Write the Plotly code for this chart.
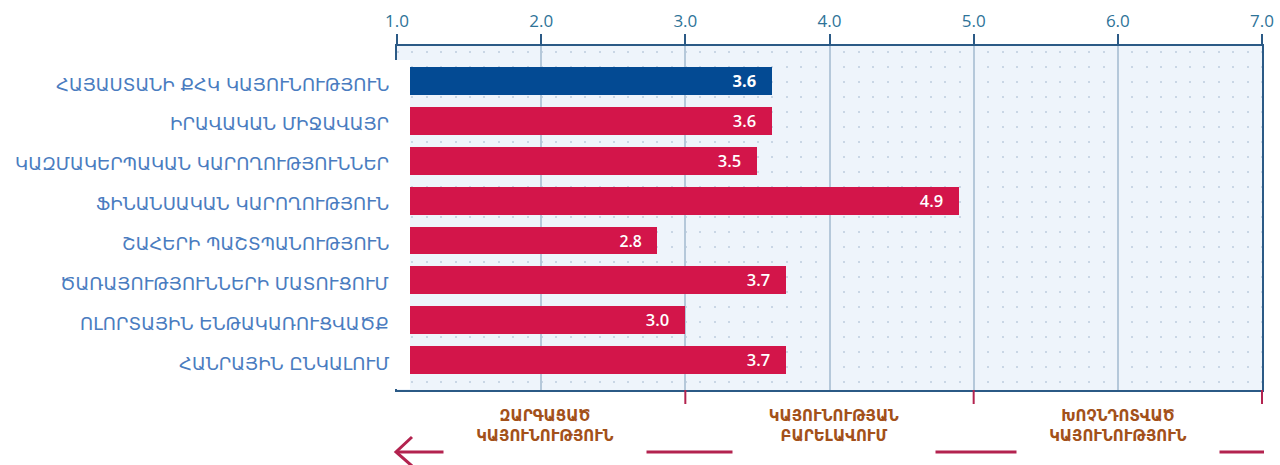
import plotly.graph_objects as go

categories = [
    "ՀԱՅԱՍՏԱՆԻ ՔՀԿ ԿԱՅՈՒՆՈՒԹՅՈՒՆ",
    "ԻՐԱՎԱԿԱՆ ՄԻՋԱՎԱՅՐ",
    "ԿԱԶՄԱԿԵՐՊԱԿԱՆ ԿԱՐՈՂՈՒԹՅՈՒՆՆԵՐ",
    "ՖԻՆԱՆՍԱԿԱՆ ԿԱՐՈՂՈՒԹՅՈՒՆ",
    "ՇԱՀԵՐԻ ՊԱՇՏՊԱՆՈՒԹՅՈՒՆ",
    "ԾԱՌԱՅՈՒԹՅՈՒՆՆԵՐԻ ՄԱՏՈՒՑՈՒՄ",
    "ՈԼՈՐՏԱՅԻՆ ԵՆԹԱԿԱՌՈՒՑՎԱԾՔ",
    "ՀԱՆՐԱՅԻՆ ԸՆԿԱԼՈՒՄ",
]
values = [3.6, 3.6, 3.5, 4.9, 2.8, 3.7, 3.0, 3.7]
x_ticks = [1.0, 2.0, 3.0, 4.0, 5.0, 6.0, 7.0]
zone_bounds = [3.0, 5.0, 7.0]
zone_centers = [2.03, 4.03, 6.0]
zone_labels = [
    "ԶԱՐԳԱՑԱԾ<br>ԿԱՅՈՒՆՈՒԹՅՈՒՆ",
    "ԿԱՅՈՒՆՈՒԹՅԱՆ<br>ԲԱՐԵԼԱՎՈՒՄ",
    "ԽՈՉՆԴՈՏՎԱԾ<br>ԿԱՅՈՒՆՈՒԹՅՈՒՆ",
]

BLUE = "#034a93"
RED = "#d3154a"
AXIS = "#2b5a86"
CRIMSON = "#b3234f"
LABEL = "#4a7cc0"
BROWN = "#a3511a"

L, R, T, B = 397, 1262, 46, 390
W, H = R - L, B - T
def px_x(p):
    return (p - L) / W
def px_y(p):
    return (B - p) / H

idx = list(range(len(categories)))
fig = go.Figure()
fig.add_trace(go.Bar(
    x=[v - 1 for v in values[:1]], base=1, y=idx[:1], orientation="h",
    marker=dict(color=BLUE, line=dict(width=0)), width=0.7,
    text=[f"{v:.1f}   " for v in values[:1]], textposition="inside",
    insidetextanchor="end",
    textfont=dict(color="white", size=18, family="Open Sans", weight=700),
    hoverinfo="skip",
))
fig.add_trace(go.Bar(
    x=[v - 1 for v in values[1:]], base=1, y=idx[1:], orientation="h",
    marker=dict(color=RED, line=dict(width=0)), width=0.7,
    text=[f"{v:.1f}   " for v in values[1:]], textposition="inside",
    insidetextanchor="end",
    textfont=dict(color="white", size=18, family="Open Sans", weight=600),
    hoverinfo="skip",
))

shapes = []
shapes.append(dict(type="rect", xref="paper", yref="paper",
                   x0=-0.5, x1=px_x(410), y0=px_y(389), y1=px_y(60),
                   fillcolor="white", line=dict(width=0), layer="above"))
shapes.append(dict(type="line", xref="paper", yref="paper",
                   x0=px_x(396), x1=px_x(1264), y0=px_y(452), y1=px_y(452),
                   line=dict(color=CRIMSON, width=3), layer="above"))
shapes.append(dict(type="path", xref="paper", yref="paper",
                   path=f"M {px_x(412)},{px_y(437)} L {px_x(396)},{px_y(452)} L {px_x(412)},{px_y(466)}",
                   line=dict(color=CRIMSON, width=3), layer="above"))
for zb in zone_bounds:
    xp = (zb - 1) / 6
    shapes.append(dict(type="line", xref="paper", yref="paper",
                       x0=xp, x1=xp, y0=0, y1=px_y(404),
                       line=dict(color=CRIMSON, width=2), layer="above"))

annotations = []
for i, c in enumerate(categories):
    annotations.append(dict(text=c, x=px_x(391), xref="paper", y=i, yref="y",
                            xanchor="right", yanchor="middle", yshift=-3,
                            showarrow=False,
                            font=dict(color=LABEL, size=18, family="DejaVu Sans")))
for zc, zl in zip(zone_centers, zone_labels):
    annotations.append(dict(text=zl, x=zc, xref="x", y=px_y(426), yref="paper",
                            xanchor="center", yanchor="middle", showarrow=False,
                            width=200, height=56, bgcolor="white", borderpad=1,
                            font=dict(color=BROWN, size=15, family="DejaVu Sans",
                                      weight="bold")))

fig.update_layout(
    width=1280, height=465,
    margin=dict(l=L, r=1280 - R, t=T, b=465 - B),
    paper_bgcolor="white", plot_bgcolor="#eef4fb",
    showlegend=False, barmode="overlay", bargap=0,
    shapes=shapes, annotations=annotations,
    xaxis=dict(side="top", range=[1, 7], tickvals=x_ticks,
               ticktext=[f"{t:.1f}" for t in x_ticks],
               ticks="outside", ticklen=10, tickwidth=2, tickcolor=AXIS,
               showline=True, linecolor=AXIS, linewidth=2, mirror=True,
               showgrid=True, gridcolor="#b5c8da", gridwidth=2, zeroline=False,
               automargin=False,
               tickfont=dict(color="#2e7398", size=17, family="Open Sans")),
    yaxis=dict(range=[7.75, -0.88], showticklabels=False, ticks="",
               showgrid=False, zeroline=False, automargin=False,
               showline=True, linecolor=AXIS, linewidth=2, mirror=True,
               minor=dict(dtick=0.376, tick0=-0.72, showgrid=True,
                          gridcolor="#c9d6e5", gridwidth=2,
                          griddash="2px,12.4px")),
)
fig.write_html("out.html", config={"displayModeBar": False},
               post_script="document.body.style.margin='0';document.body.style.padding='0';")
